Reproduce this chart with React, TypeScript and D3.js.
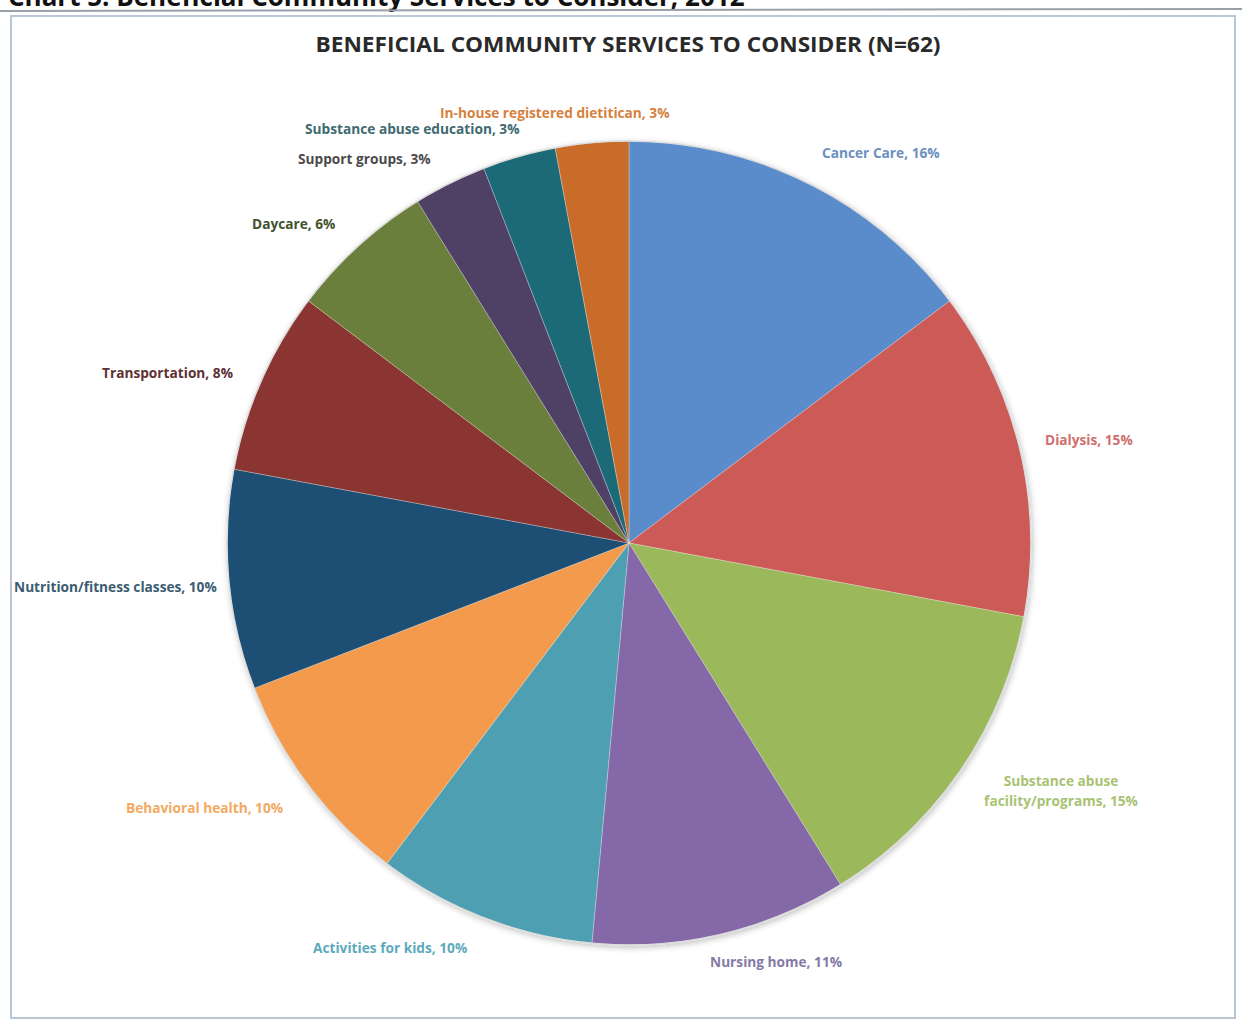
import React from "react";
import * as d3 from "d3";

const categories = [
  "Cancer Care",
  "Dialysis",
  "Substance abuse facility/programs",
  "Nursing home",
  "Activities for kids",
  "Behavioral health",
  "Nutrition/fitness classes",
  "Transportation",
  "Daycare",
  "Support groups",
  "Substance abuse education",
  "In-house registered dietitican",
];
// respondent counts (N=62)
const counts = [10, 9, 9, 7, 6, 6, 6, 5, 4, 2, 2, 2];
const N = 62;

const sliceColors = [
  "#5a8bcb", "#cc5a56", "#9bb85a", "#8568a8", "#4f9fb2", "#f39a4e",
  "#1e4f73", "#8a3432", "#6b7f3a", "#4f3f66", "#1d6a77", "#c96c2c",
];
const labelColors = [
  "#6b90c0", "#cf6f6e", "#a9c274", "#857aa6", "#5eaabc", "#f2aa62",
  "#3b5c70", "#5e3134", "#42532e", "#4d4a4d", "#3e6a70", "#d6813e",
];
// label layout: [x, y, anchor]
const labelLayout: [number, number, string][] = [
  [822, 158, "start"],
  [1045, 445, "start"],
  [1061, 786, "middle"],
  [710, 967, "start"],
  [313, 953, "start"],
  [126, 813, "start"],
  [14, 592, "start"],
  [102, 378, "start"],
  [252, 229, "start"],
  [298, 164, "start"],
  [305, 134, "start"],
  [440, 118, "start"],
];
// label line splits (category name lines); percent appended to last line
const labelSplit = [
  ["Cancer Care"],
  ["Dialysis"],
  ["Substance abuse", "facility/programs"],
  ["Nursing home"],
  ["Activities for kids"],
  ["Behavioral health"],
  ["Nutrition/fitness classes"],
  ["Transportation"],
  ["Daycare"],
  ["Support groups"],
  ["Substance abuse education"],
  ["In-house registered dietitican"],
];

export default function App() {
  const W = 1242, H = 1023;
  const cx = 629, cy = 543, r = 402;
  const data = categories.map((c, i) => ({ c, v: counts[i], i }));
  const pie = d3.pie<any>().value((d) => d.v).sort(null);
  const arcs = pie(data);
  const arc = d3.arc<any>().innerRadius(0).outerRadius(r);
  const font = "Open Sans, Liberation Sans, sans-serif";
  return (
    <svg width={W} height={H} style={{ position: "absolute", left: 0, top: 0, background: "#fff" }}>
      <defs>
        <filter id="sh" x="-10%" y="-10%" width="120%" height="120%">
          <feGaussianBlur in="SourceAlpha" stdDeviation="3" />
          <feOffset dx="1" dy="2" result="b" />
          <feComponentTransfer><feFuncA type="linear" slope="0.25" /></feComponentTransfer>
          <feMerge><feMergeNode /><feMergeNode in="SourceGraphic" /></feMerge>
        </filter>
      </defs>
      <text x={8} y={6} fontFamily={font} fontWeight="bold" fontSize={26} fill="#111">
        Chart 5: Beneficial Community Services to Consider, 2012
      </text>
      <line x1={0} y1={11} x2={W} y2={9} stroke="#9aa0a8" strokeWidth={2} />
      <rect x={11} y={16} width={1224} height={1002} fill="none" stroke="#b9c6d6" strokeWidth={2} />
      <text x={628} y={52} textAnchor="middle" fontFamily={font} fontWeight="bold" fontSize={21}
        fill="#2a2a2a" textLength={625} lengthAdjust="spacingAndGlyphs">
        BENEFICIAL COMMUNITY SERVICES TO CONSIDER (N=62)
      </text>
      <g transform={`translate(${cx},${cy})`} filter="url(#sh)">
        {arcs.map((a, i) => (
          <path key={i} d={arc(a) as string} fill={sliceColors[i]} stroke="#ffffff" strokeOpacity={0.35} strokeWidth={0.8} />
        ))}
        <circle r={r} fill="none" stroke="#dcdcdc" strokeWidth={1.5} />
      </g>
      {labelLayout.map(([x, y, anchor], i) => {
        const lines = labelSplit[i];
        const pct = Math.round((counts[i] / N) * 100);
        return (
          <text key={i} x={x} y={y} textAnchor={anchor} fontFamily={font} fontWeight="bold"
            fontSize={13.7} fill={labelColors[i]}>
            {lines.map((ln, j) => (
              <tspan key={j} x={x} dy={j === 0 ? 0 : 20}>
                {j === lines.length - 1 ? `${ln}, ${pct}%` : ln}
              </tspan>
            ))}
          </text>
        );
      })}
    </svg>
  );
}
